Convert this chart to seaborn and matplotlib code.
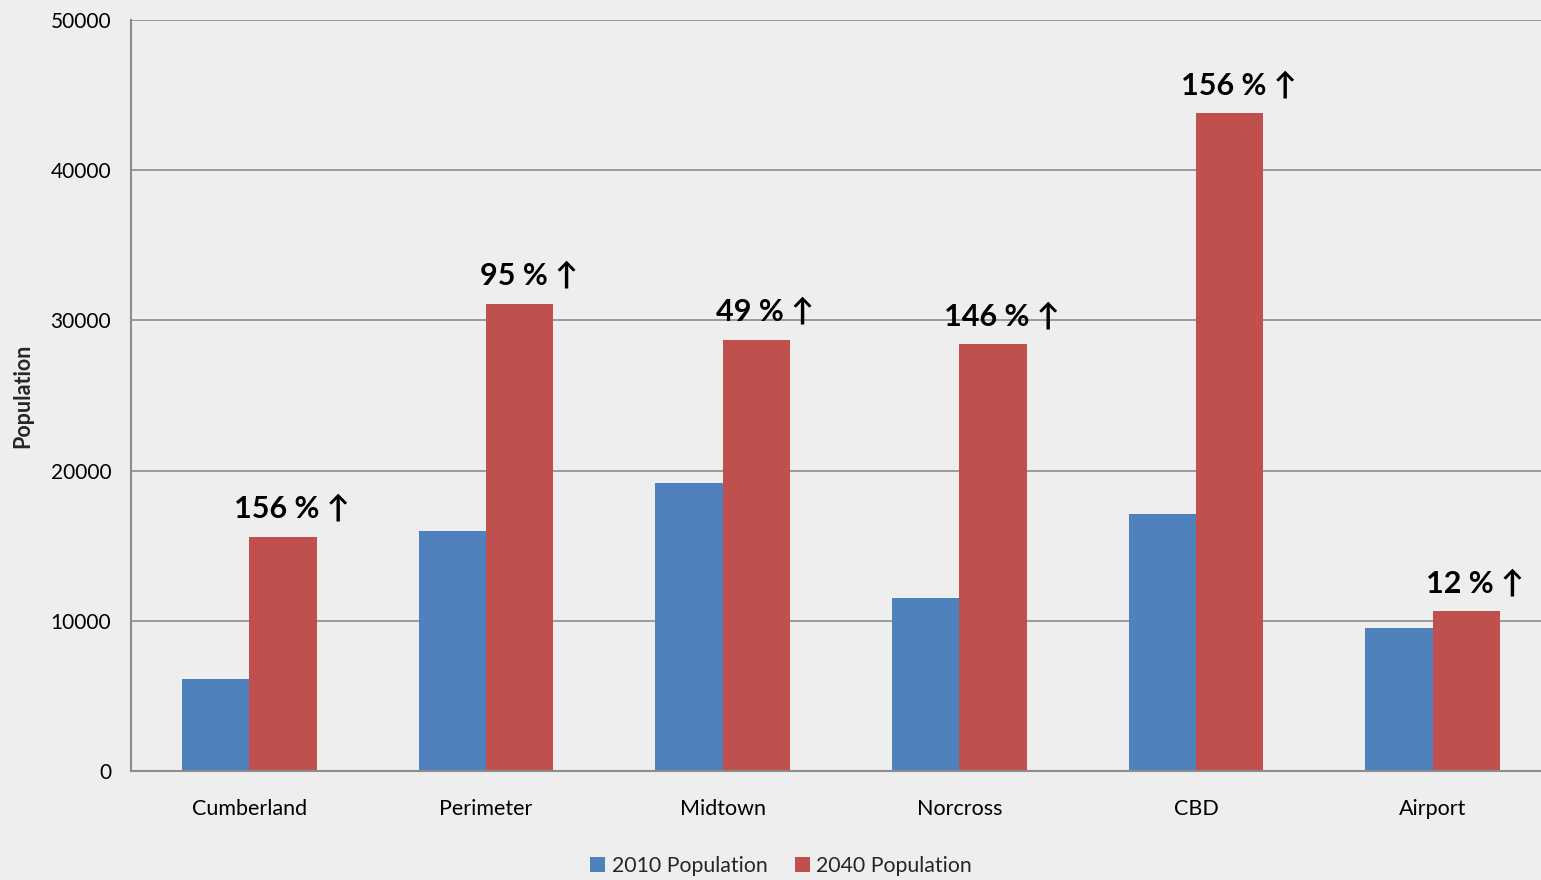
import matplotlib
matplotlib.use("Agg")
import matplotlib.pyplot as plt
from matplotlib.patches import Patch
from matplotlib.ticker import FixedLocator
import seaborn as sns
import pandas as pd

# 資料
regions = ["Cumberland", "Perimeter", "Midtown", "Norcross", "CBD", "Airport"]
pop_2010 = [6100, 16000, 19200, 11500, 17100, 9500]
pop_2040 = [15600, 31100, 28700, 28400, 43800, 10650]
growth_labels = ["156 %", "95 %", "49 %", "146 %", "156 %", "12 %"]
series_names = ["2010 Population", "2040 Population"]
colors = ["#4F81BD", "#C0504D"]

df = pd.DataFrame({
    "region": regions * 2,
    "series": [series_names[0]] * len(regions) + [series_names[1]] * len(regions),
    "population": pop_2010 + pop_2040,
})

sns.set_style("white")
plt.rcParams['font.family'] = ['Lato', 'DejaVu Sans']
bg = "#EEEEEE"
gray = "#8C8C8C"

fig = plt.figure(figsize=(15.41, 8.8), dpi=100, facecolor=bg)
ax = fig.add_axes([131 / 1541, 109 / 880, 1420 / 1541, 751 / 880])
ax.set_facecolor(bg)

sns.barplot(data=df, x="region", y="population", hue="series", order=regions,
            hue_order=series_names, palette=colors, width=0.57, saturation=1,
            linewidth=0, ax=ax, legend=False)

ax.set_ylim(0, 50000)
ax.set_xlim(-0.5, 5.5)
ax.set_yticks(range(0, 50001, 10000))
ax.yaxis.grid(True, color=gray, linewidth=1.2)
ax.set_axisbelow(True)
for s in ["top", "right"]:
    ax.spines[s].set_visible(False)
for s in ["left", "bottom"]:
    ax.spines[s].set_color(gray)
    ax.spines[s].set_linewidth(1.5)

ax.tick_params(axis="y", length=4.3, color=gray, width=1.2, pad=10, labelsize=15, labelcolor="black")
ax.tick_params(axis="x", which="major", length=0, pad=20.5, labelsize=15.5, labelcolor="black")
ax.xaxis.set_minor_locator(FixedLocator([i - 0.5 for i in range(len(regions) + 1)]))
ax.tick_params(axis="x", which="minor", length=5, color=gray, width=1.2)

ax.set_xlabel("")
ax.set_ylabel("Population", fontsize=15.5, fontweight="bold")
ax.yaxis.set_label_coords(-0.069, 0.5)

# 成長百分比標示
for i, (v, lab) in enumerate(zip(pop_2040, growth_labels)):
    ax.annotate(lab + " \u2191", xy=(i + 0.18, v), xytext=(0, 13.7), textcoords="offset points",
                ha="center", va="baseline", fontsize=22, fontweight="bold", color="black")

handles = [Patch(facecolor=c, edgecolor="none") for c in colors]
fig.legend(handles, series_names, loc="center", bbox_to_anchor=(0.507, 0.016), ncol=2,
           frameon=False, fontsize=15.3, handlelength=0.7, handleheight=0.7,
           handletextpad=0.3, columnspacing=1.3)

fig.savefig("out.png", dpi=100, facecolor=bg)
